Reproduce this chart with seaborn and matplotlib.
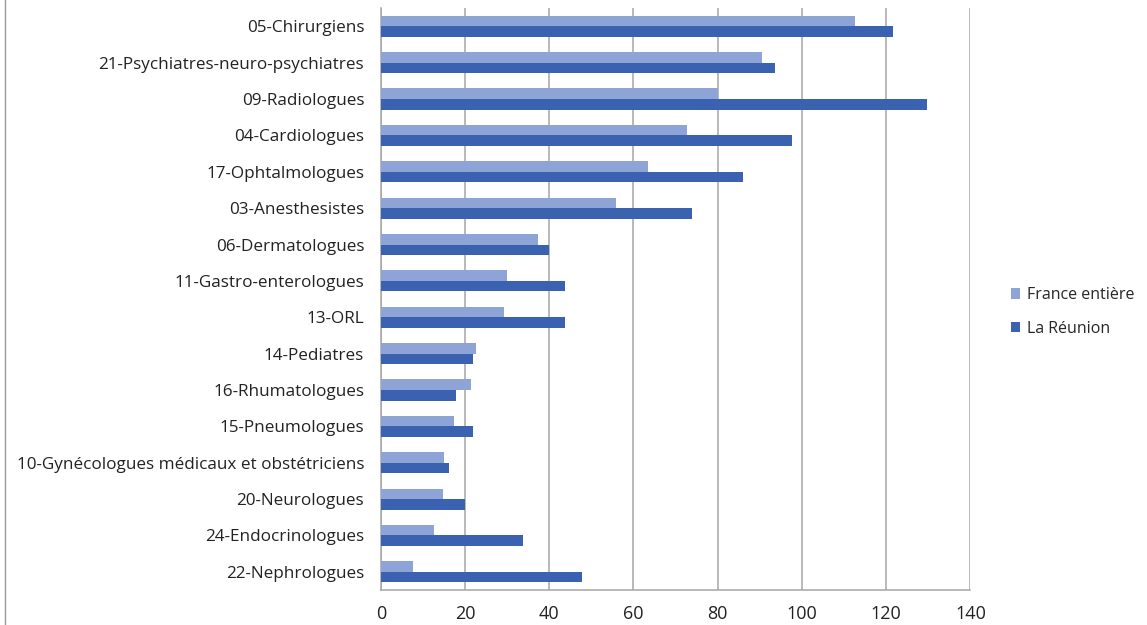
import pandas as pd
import seaborn as sns
import matplotlib.pyplot as plt
from matplotlib.lines import Line2D

specialites = [
    "05-Chirurgiens", "21-Psychiatres-neuro-psychiatres", "09-Radiologues",
    "04-Cardiologues", "17-Ophtalmologues", "03-Anesthesistes",
    "06-Dermatologues", "11-Gastro-enterologues", "13-ORL", "14-Pediatres",
    "16-Rhumatologues", "15-Pneumologues",
    "10-Gynécologues médicaux et obstétriciens", "20-Neurologues",
    "24-Endocrinologues", "22-Nephrologues",
]
france = [112.5, 90.6, 80.0, 72.7, 63.5, 55.9, 37.3, 30.0, 29.3, 22.6,
          21.5, 17.5, 15.1, 14.7, 12.6, 7.6]
reunion = [121.6, 93.7, 129.6, 97.7, 85.9, 73.8, 40.0, 43.8, 43.8, 22.0,
           17.9, 22.0, 16.3, 20.1, 33.8, 47.8]
series = ["France entière", "La Réunion"]
couleurs = ["#8EA3D6", "#3A62B0"]
xticks = [0, 20, 40, 60, 80, 100, 120, 140]

df = pd.DataFrame({
    "specialite": specialites * 2,
    "valeur": france + reunion,
    "zone": [series[0]] * len(france) + [series[1]] * len(reunion),
})

sns.set_theme(style="white")
plt.rcParams["font.family"] = ["Open Sans", "DejaVu Sans"]

fig = plt.figure(figsize=(11.47, 6.25), dpi=100)
ax = fig.add_axes([0.332, 0.056, 0.514, 0.931])

sns.barplot(data=df, x="valeur", y="specialite", hue="zone", orient="h",
            palette=couleurs, width=0.58, saturation=1, linewidth=0,
            ax=ax, zorder=3)

ax.set_xlim(0, 140)
ax.set_xticks(xticks)
ax.set_xticklabels([str(v) for v in xticks], fontsize=13, color="#222222")
ax.tick_params(axis="y", labelsize=12.3, labelcolor="#222222", length=0, pad=12)
ax.tick_params(axis="x", length=0, pad=11)
ax.set_xlabel("")
ax.set_ylabel("")
ax.grid(axis="x", color="#A6A6A6", linewidth=1.1, zorder=0)
ax.set_axisbelow(True)
for s in ["top", "right"]:
    ax.spines[s].set_visible(False)
for s in ["left", "bottom"]:
    ax.spines[s].set_color("#A6A6A6")
    ax.spines[s].set_linewidth(1.1)

ax.legend(title=None, frameon=False, fontsize=11.5, loc="center left",
          bbox_to_anchor=(1.044, 0.478), handlelength=0.6, handleheight=0.6,
          handletextpad=0.4, labelspacing=1.1)

fig.add_artist(Line2D([0.0045, 0.0045], [0, 1], color="#999999", linewidth=1))

fig.savefig("out.png", dpi=100, facecolor="white")
